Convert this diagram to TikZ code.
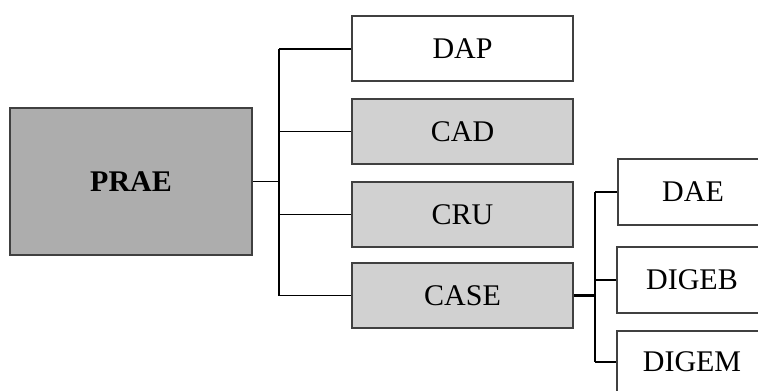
\documentclass[tikz,border=0pt]{standalone}
\usepackage{fontspec}
\setmainfont{Liberation Serif}
\usetikzlibrary{positioning}

\begin{document}
\begin{tikzpicture}[x=0.5pt, y=-0.5pt,
        box/.style = {draw=black!75, line width=1pt, inner sep=0pt,
                      font=\fontsize{15}{18}\selectfont},
        unit/.style = {box, minimum width=110.5pt, minimum height=32.5pt},
        sub/.style = {box, fill=white, minimum width=75pt, minimum height=33pt},
        link/.style = {draw=black, line width=0.75pt}]
        \clip (0,0) rectangle (758,390);

        \node[box, fill=black!32, minimum width=121pt, minimum height=73.5pt,
              font=\fontsize{15}{18}\selectfont\bfseries] (prae) at (131,181.5) {PRAE};

        \node[unit, fill=white] (dap) at (462.5,49) {DAP};
        \node[unit, fill=black!18] (cad) at (462.5,131.5) {CAD};
        \node[unit, fill=black!18] (cru) at (462.5,214.5) {CRU};
        \node[unit, fill=black!18] (case) at (462.5,295.5) {CASE};

        \node[sub] (dae) at (693,192) {DAE};
        \node[sub] (digeb) at (692,280) {DIGEB};
        \node[sub, minimum height=31pt] (digem) at (692,362) {DIGEM};

        \coordinate (t) at (279,0);
        \coordinate (s) at (595,0);

        \draw[link] (prae.east) -- (prae.east -| t);
        \foreach \n in {dap,cad,cru,case}
            \draw[link] (\n.west) -- (\n.west -| t);
        \draw[link] (dap.west -| t) -- (case.west -| t);

        \draw[link, line width=1.5pt] (case.east) -- (case.east -| s);
        \foreach \n in {dae,digeb,digem}
            \draw[link] (\n.west) -- (\n.west -| s);
        \draw[link] (dae.west -| s) -- (digem.west -| s);
    \end{tikzpicture}
\end{document}
